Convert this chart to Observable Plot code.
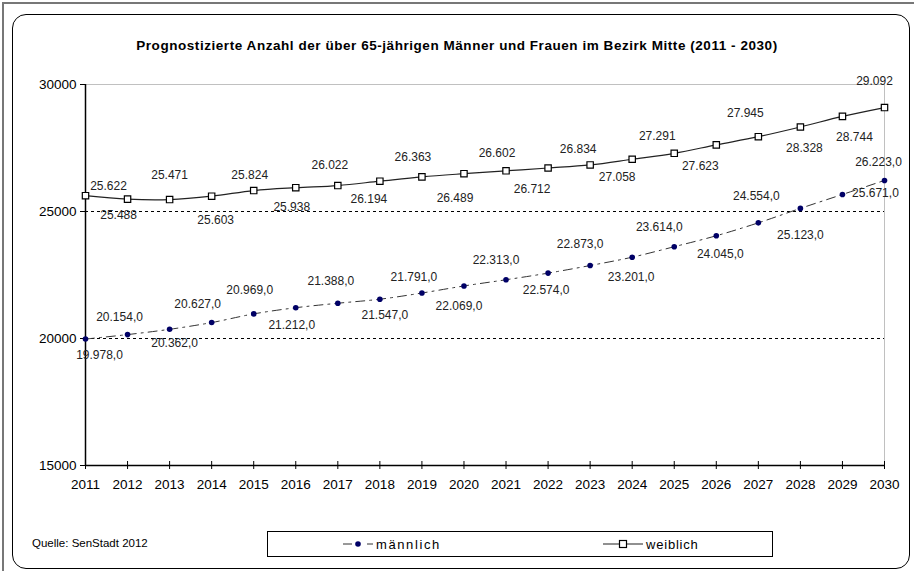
<!DOCTYPE html>
<html>
<head>
<meta charset="utf-8">
<script src="https://cdn.jsdelivr.net/npm/d3@7"></script>
<script src="https://cdn.jsdelivr.net/npm/@observablehq/plot@0.6"></script>
<style>
  html, body { margin: 0; padding: 0; background: #fff; }
  #frame { position: relative; width: 914px; height: 571px; overflow: hidden; font-family: Arial, "Liberation Sans", sans-serif; color: #000; }
  #outer { position: absolute; left: 2px; top: 2px; width: 930px; height: 600px; border-left: 2px solid #777; border-top: 2px solid #777; }
  #inner { position: absolute; left: 12px; top: 14px; width: 896px; height: 553px; border: 1px solid #000; border-radius: 14px; }
  #title { position: absolute; left: 0; top: 38px; width: 914px; text-align: center; font-weight: bold; font-size: 13.5px; letter-spacing: 0.55px; }
  #chart { position: absolute; left: 0; top: 60px; }
  #source { position: absolute; left: 32px; top: 537px; font-size: 11.5px; }
  #legend { position: absolute; left: 267px; top: 531px; width: 504px; height: 24px; border: 1px solid #000; font-size: 13px; }
  .item { position: absolute; top: 0; height: 24px; display: flex; align-items: center; }
  .item svg { display: block; }
  .item span { margin-left: 3px; letter-spacing: 0.8px; }
</style>
</head>
<body>
<div id="frame">
  <div id="outer"></div>
  <div id="inner"></div>
  <div id="title">Prognostizierte Anzahl der über 65-jährigen Männer und Frauen im Bezirk Mitte (2011 - 2030)</div>
  <div id="chart"></div>
  <div id="source">Quelle: SenStadt 2012</div>
  <div id="legend">
    <div class="item" style="left:75px">
      <svg width="30" height="10"><line x1="0" y1="5" x2="30" y2="5" stroke="#333" stroke-width="1" stroke-dasharray="9,6,0"/><circle cx="15" cy="5" r="2.8" fill="#000066"/></svg>
      <span style="letter-spacing:1.6px">männlich</span>
    </div>
    <div class="item" style="left:335px">
      <svg width="40" height="10"><line x1="0" y1="5" x2="40" y2="5" stroke="#222" stroke-width="1.2"/><rect x="16.5" y="1.5" width="7" height="7" fill="#fff" stroke="#000" stroke-width="1.2"/></svg>
      <span>weiblich</span>
    </div>
  </div>
</div>
<script>
// ---- data ----
const years = [2011,2012,2013,2014,2015,2016,2017,2018,2019,2020,2021,2022,2023,2024,2025,2026,2027,2028,2029,2030];
const maennlich = [19978,20154,20362,20627,20969,21212,21388,21547,21791,22069,22313,22574,22873,23201,23614,24045,24554,25123,25671,26223];
const weiblich = [25622,25488,25471,25603,25824,25938,26022,26194,26363,26489,26602,26712,26834,27058,27291,27623,27945,28328,28744,29092];
const yTicks = [15000,20000,25000,30000];

// ---- label placement (layout only) ----
const fOff = [[23,-10],[-9,16],[0,-24],[4,24],[-4,-15],[-4,19],[-8,-20],[-11,18],[-9,-20],[-9,24],
              [-9,-18],[-16,21],[-12,-16],[-15,18],[-17,-17],[-16,21],[-13,-24],[4,21],[12,21],[-10,-26]];
const mOff = [[14,16],[-8,-17],[5,14],[-14,-18],[-4,-24],[-4,17],[-7,-22],[5,16],[-8,-16],[-5,20],
              [-10,-20],[-2,17],[-10,-21],[-1,20],[-15,-20],[4,18],[-2,-27],[0,27],[33,-1],[-6,-18]];

const male = years.map((y, i) => ({year: y, v: maennlich[i]}));
const female = years.map((y, i) => ({year: y, v: weiblich[i]}));

const de = d3.formatLocale({decimal: ",", thousands: ".", grouping: [3], currency: ["", " €"]});
const fmtF = de.format(",d");
const fmtM = de.format(",.1f");

const labelStyle = {fill: "#222", fontSize: 12};

const chart = Plot.plot({
  width: 914,
  height: 440,
  marginLeft: 85,
  marginRight: 30,
  marginTop: 24,
  marginBottom: 35,
  style: {fontFamily: "Arial, 'Liberation Sans', sans-serif", fontSize: "13.5px", background: "transparent", color: "#000"},
  x: {domain: [years[0], years[years.length - 1]]},
  y: {domain: [yTicks[0], yTicks[yTicks.length - 1]]},
  marks: [
    Plot.ruleY([yTicks[3]], {stroke: "#c0c0c0", strokeWidth: 1}),
    Plot.ruleX([years[years.length - 1]], {stroke: "#c0c0c0", strokeWidth: 1}),
    Plot.ruleY([yTicks[1], yTicks[2]], {stroke: "#000", strokeWidth: 1, strokeDasharray: "3,3"}),
    Plot.axisY({ticks: yTicks, tickFormat: d => String(d), tickSize: 5, tickPadding: 4, label: null, stroke: "#000", strokeOpacity: 1}),
    Plot.axisX({ticks: years, tickFormat: d => String(d), tickSize: 0, tickPadding: 14, label: null}),
    Plot.axisX({ticks: years, tickFormat: () => "", tickSize: 8, dy: -4, label: null, stroke: "#000", strokeOpacity: 1}),
    Plot.ruleX([years[0]], {stroke: "#000", strokeWidth: 1.5}),
    Plot.ruleY([yTicks[0]], {stroke: "#000", strokeWidth: 1.5}),
    Plot.line(male, {x: "year", y: "v", stroke: "#333", strokeWidth: 1, strokeDasharray: "9,5,2,5", curve: "catmull-rom"}),
    Plot.line(female, {x: "year", y: "v", stroke: "#222", strokeWidth: 1.2, curve: "catmull-rom"}),
    Plot.dot(male, {x: "year", y: "v", r: 2.8, fill: "#000066", stroke: "none"}),
    Plot.dot(female, {x: "year", y: "v", symbol: "square", r: 3.6, fill: "#fff", stroke: "#000", strokeWidth: 1.2}),
    female.map((d, i) => Plot.text([d], {x: "year", y: "v", text: e => fmtF(e.v), dx: fOff[i][0], dy: fOff[i][1], ...labelStyle})),
    male.map((d, i) => Plot.text([d], {x: "year", y: "v", text: e => fmtM(e.v), dx: mOff[i][0], dy: mOff[i][1], ...labelStyle}))
  ]
});
document.getElementById("chart").appendChild(chart);
</script>
</body>
</html>
